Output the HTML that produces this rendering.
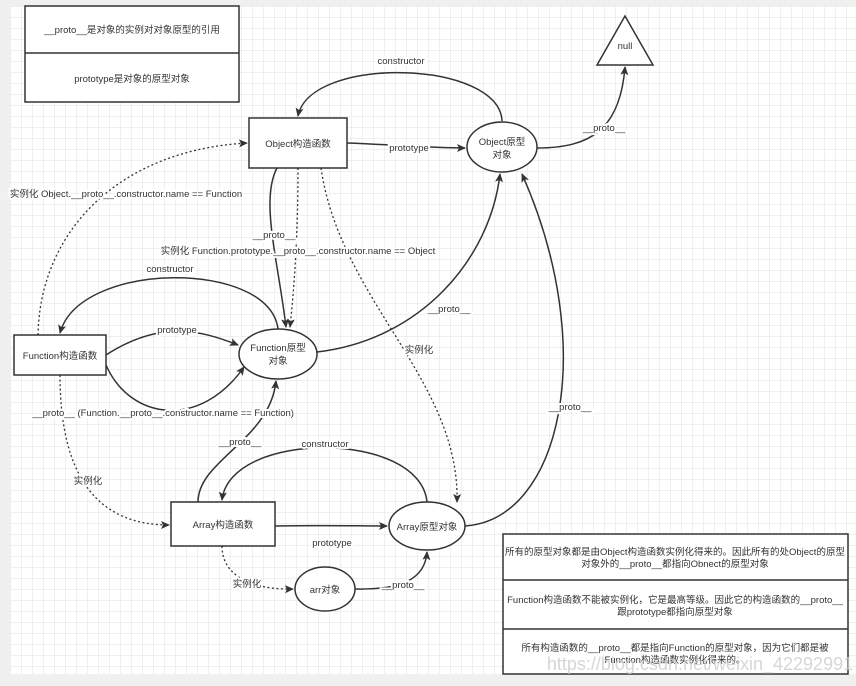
<!DOCTYPE html>
<html><head><meta charset="utf-8"><style>
html,body{margin:0;padding:0;background:#f0f0f0;}
svg{display:block;font-family:"Liberation Sans","Noto Sans CJK SC",sans-serif;}
</style></head><body>
<svg width="856" height="686" viewBox="0 0 856 686" xmlns="http://www.w3.org/2000/svg">
<defs>
<pattern id="g" width="11" height="11" patternUnits="userSpaceOnUse" x="10" y="6">
<path d="M11 0H0V11" fill="none" stroke="#e2e2e2" stroke-width="1"/>
</pattern>
<marker id="a" markerWidth="10" markerHeight="10" refX="8" refY="5" orient="auto" markerUnits="userSpaceOnUse">
<path d="M0,1 L9,5 L0,9 L2,5 Z" fill="#333"/>
</marker>
</defs>
<rect x="10" y="6" width="846" height="668" fill="#fff"/>
<rect x="10" y="6" width="846" height="668" fill="url(#g)"/>
<g fill="none" stroke="#333" stroke-width="1.5">
<rect x="25" y="6" width="214" height="96" fill="#fff"/>
<line x1="25" y1="53" x2="239" y2="53"/>
<rect x="249" y="118" width="98" height="50" fill="#fff"/>
<ellipse cx="502" cy="147" rx="35" ry="25" fill="#fff"/>
<path d="M625,16 L653,65 L597,65 Z" fill="#fff"/>
<rect x="14" y="335" width="92" height="40" fill="#fff"/>
<ellipse cx="278" cy="354" rx="39" ry="25" fill="#fff"/>
<rect x="171" y="502" width="104" height="44" fill="#fff"/>
<ellipse cx="427" cy="526" rx="38" ry="24" fill="#fff"/>
<ellipse cx="325" cy="589" rx="30" ry="22" fill="#fff"/>
<rect x="503" y="534" width="345" height="140" fill="#fff"/>
<line x1="503" y1="580" x2="848" y2="580"/>
<line x1="503" y1="629" x2="848" y2="629"/>
</g>
<g fill="none" stroke="#333" stroke-width="1.5" marker-end="url(#a)">
<path d="M502,121 C500,60 310,55 298,116"/>
<path d="M347,143 C400,145 430,148 465,148"/>
<path d="M537,148 C590,148 620,130 625,67"/>
<path d="M277,168 C260,200 278,260 286,327"/>
<path d="M278,329 C270,260 80,260 60,333"/>
<path d="M106,355 C160,320 200,330 238,345"/>
<path d="M106,365 C130,420 200,430 244,367"/>
<path d="M317,352 C420,340 490,260 500,174"/>
<path d="M198,502 C198,460 270,440 276,381"/>
<path d="M427,502 C420,430 230,430 222,500"/>
<path d="M275,526 C320,525 360,526 387,526"/>
<path d="M355,589 C400,590 425,580 427,552"/>
<path d="M465,526 C560,520 600,350 522,174"/>
</g>
<g fill="none" stroke="#333" stroke-width="1.3" stroke-dasharray="2,2.5" marker-end="url(#a)">
<path d="M38,335 C40,230 120,150 247,143"/>
<path d="M298,168 C298,230 295,280 290,327"/>
<path d="M321,168 C340,300 460,380 457,502"/>
<path d="M60,375 C60,480 100,525 169,525"/>
<path d="M222,546 C222,580 260,590 293,589"/>
</g>
<g font-size="9.5" fill="#333" text-anchor="middle">
<text x="132" y="33">__proto__是对象的实例对对象原型的引用</text>
<text x="132" y="82">prototype是对象的原型对象</text>
<text x="298" y="147">Object构造函数</text>
<text x="502" y="145">Object原型</text>
<text x="502" y="158">对象</text>
<text x="625" y="49">null</text>
<text x="60" y="359">Function构造函数</text>
<text x="278" y="351">Function原型</text>
<text x="278" y="364">对象</text>
<text x="223" y="528">Array构造函数</text>
<text x="427" y="530">Array原型对象</text>
<text x="325" y="593">arr对象</text>
<g stroke="#fff" stroke-width="4" paint-order="stroke">
<text x="401" y="64">constructor</text>
<text x="409" y="151">prototype</text>
<text x="604" y="131">__proto__</text>
<text x="126" y="197">实例化 Object.__proto__.constructor.name == Function</text>
<text x="274" y="238">__proto__</text>
<text x="298" y="254">实例化 Function.prototype.__proto__.constructor.name == Object</text>
<text x="170" y="272">constructor</text>
<text x="177" y="333">prototype</text>
<text x="449" y="312">__proto__</text>
<text x="419" y="353">实例化</text>
<text x="163" y="416">__proto__ (Function.__proto__.constructor.name == Function)</text>
<text x="240" y="445">__proto__</text>
<text x="325" y="447">constructor</text>
<text x="88" y="484">实例化</text>
<text x="332" y="546">prototype</text>
<text x="247" y="587">实例化</text>
<text x="403" y="588">__proto__</text>
<text x="570" y="410">__proto__</text>
</g>
<text x="675" y="555">所有的原型对象都是由Object构造函数实例化得来的。因此所有的处Object的原型</text>
<text x="675" y="567">对象外的__proto__都指向Obnect的原型对象</text>
<text x="675" y="603">Function构造函数不能被实例化，它是最高等级。因此它的构造函数的__proto__</text>
<text x="675" y="615">跟prototype都指向原型对象</text>
<text x="675" y="651">所有构造函数的__proto__都是指向Function的原型对象，因为它们都是被</text>
<text x="675" y="663">Function构造函数实例化得来的。</text>
</g>
<text x="700" y="670" font-size="18" fill="#ccc" text-anchor="middle" opacity="0.8">https://blog.csdn.net/weixin_42292991</text>
</svg>
</body></html>
